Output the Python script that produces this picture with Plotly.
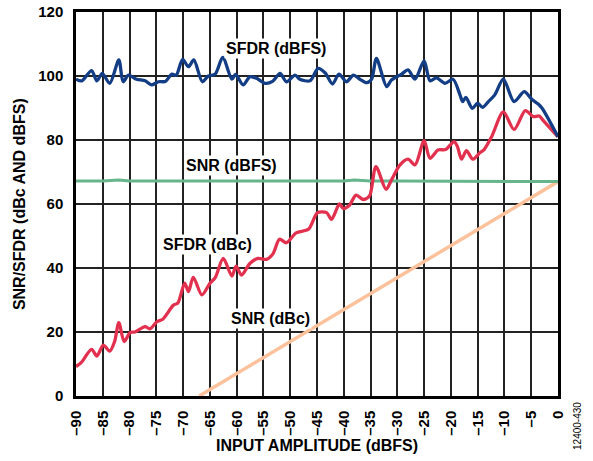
import plotly.graph_objects as go

# ---------------- data ----------------
x_ticks = list(range(-90, 1, 5))
x_ticktext = [("–" + str(-v)) if v < 0 else "0" for v in x_ticks]
y_ticks = [0, 20, 40, 60, 80, 100, 120]

sfdr_dbfs_x = [-90, -88.9, -87.1, -86.1, -85.1, -83.7, -82, -81.2, -80.2, -78.7, -77.1, -75.9, -74.6, -73.3,
               -72.1, -71.3, -70.1, -69, -68, -66.4, -65.3, -64, -62.6, -60.9, -60.2, -58.8, -57.5, -56.2,
               -54.7, -53.3, -51.9, -50.7, -49.1, -48.2, -46.3, -44.8, -43.5, -42.1, -40.9, -39.5, -38.2,
               -37, -35.7, -34.8, -33.9, -32, -31.1, -29.2, -28, -26.7, -25, -23.9, -22.7, -21.1, -19.6,
               -18.3, -17.8, -17.2, -16, -15, -14.1, -13, -11.8, -10.2, -8.2, -6.3, -4.9, -3.7, -3, 0]
sfdr_dbfs_y = [99, 98.5, 101.7, 98.5, 100.8, 97.7, 105, 98.2, 100.3, 99, 98.5, 97.2, 98.2, 98.3,
               100.6, 100.2, 105.2, 102.9, 105, 98.2, 100, 100.6, 105.8, 99, 100.5, 97.2, 99.8, 99.2,
               97.7, 98.3, 100.8, 98.2, 100.3, 99, 98.5, 102.4, 101, 97.5, 100.6, 98.2, 100.3,
               99, 97.9, 99, 105.5, 96.7, 98.75, 100.6, 101.9, 99, 104.7, 98.5, 99.4, 97.7, 99,
               94.1, 92, 93.3, 89.9, 91.5, 90.2, 92, 94.1, 99, 92, 95.1, 92.7, 91.25, 90, 81]

sfdr_dbc_x = [-90, -89, -87.1, -86.1, -84.9, -83.7, -82.8, -82, -81, -79.9, -79, -77.1, -76.2, -74.9, -73.8,
              -71.8, -71, -69.7, -69, -68.1, -66.5, -65, -64, -62.5, -60.9, -60.1, -59.1, -57.5, -56,
              -54.4, -53.2, -52, -50.7, -48.9, -46.6, -44.9, -43.2, -42.3, -40.8, -40.1, -39, -37.7,
              -36.4, -35.2, -34, -32.1, -31.1, -29.5, -28, -26.7, -25, -23.9, -22.4, -21, -19.4, -18.8,
              -18, -17.1, -15.9, -14.6, -13.8, -12.4, -10.2, -8.2, -6.1, -4.6, -3.5, -2.7, 0]
sfdr_dbc_y = [9.2, 10.5, 14.6, 12.5, 15.9, 14, 17, 22.9, 17, 19.8, 20, 21.7, 21, 23.2, 24,
              28.4, 29, 35.3, 32.6, 37.1, 31.6, 35.2, 37, 43, 37.5, 40.6, 37.8, 41.5, 43,
              42.7, 44.5, 49, 47.9, 51, 52.1, 57.3, 57.3, 55.2, 60, 58.6, 59.5, 62.8,
              61.4, 62.5, 71.7, 64.6, 67.5, 72.2, 74, 72.2, 79.8, 74.3, 76.9, 77, 79.5, 78,
              74, 76.7, 74, 76, 77, 81, 88.8, 83.3, 89.2, 87.3, 87.5, 86, 81]

snr_dbfs_x = [-90, -85, -82, -80, -75, -70, -65, -60, -55, -50, -45, -40, -38, -35, -30, -25, -20, -15, -10, -5, 0]
snr_dbfs_y = [67.2, 67.2, 67.5, 67.2, 67.2, 67.2, 67.2, 67.2, 67.2, 67.2, 67.2, 67.2, 67.5, 67.2, 67.2, 67.2,
              67.2, 67.2, 67.2, 67.2, 67.0]

snr_dbc_x = [-67, -60, -50, -40, -30, -20, -10, 0]
snr_dbc_y = [0, 7, 17, 27, 37, 47, 57, 67]

labels = ["SFDR (dBFS)", "SNR (dBFS)", "SFDR (dBc)", "SNR (dBc)"]
label_x = [-52.7, -60.9, -65.4, -53.7]
label_y = [108.7, 71.9, 47.2, 24.3]

# ---------------- figure ----------------
fig = go.Figure()
fig.add_trace(go.Scatter(x=snr_dbc_x, y=snr_dbc_y, mode="lines",
                         line=dict(color="#fdc29c", width=3.5), hoverinfo="skip"))
fig.add_trace(go.Scatter(x=snr_dbfs_x, y=snr_dbfs_y, mode="lines",
                         line=dict(color="#66b58c", width=3), hoverinfo="skip"))
fig.add_trace(go.Scatter(x=sfdr_dbc_x, y=sfdr_dbc_y, mode="lines",
                         line=dict(color="#e2314f", width=3.3, shape="spline", smoothing=0.8), hoverinfo="skip"))
fig.add_trace(go.Scatter(x=sfdr_dbfs_x, y=sfdr_dbfs_y, mode="lines",
                         line=dict(color="#133e86", width=3.3, shape="spline", smoothing=0.8), hoverinfo="skip"))

font_family = "Liberation Sans, Arial, sans-serif"

for t, lx, ly in zip(labels, label_x, label_y):
    fig.add_annotation(x=lx, y=ly, text=t, showarrow=False, bgcolor="white",
                       font=dict(family=font_family, size=16, color="black", weight="bold"),
                       xanchor="center", yanchor="middle", borderpad=1)

fig.add_annotation(xref="paper", yref="paper", x=0.5, y=-0.130, text="INPUT AMPLITUDE (dBFS)",
                   showarrow=False, xanchor="center", yanchor="middle",
                   font=dict(family=font_family, size=16, color="black", weight="bold"))
fig.add_annotation(xref="paper", yref="paper", x=-0.118, y=0.5, text="SNR/SFDR (dBc AND dBFS)",
                   showarrow=False, xanchor="center", yanchor="middle", textangle=-90,
                   font=dict(family=font_family, size=16, color="black", weight="bold"))
fig.add_annotation(xref="paper", yref="paper", x=1.0415, y=-0.078, text="12400-430",
                   showarrow=False, xanchor="center", yanchor="middle", textangle=-90,
                   font=dict(family=font_family, size=10, color="black"))

fig.update_layout(
    width=593, height=461,
    margin=dict(l=76, r=35, t=12, b=65, autoexpand=False),
    plot_bgcolor="white", paper_bgcolor="white",
    showlegend=False,
    font=dict(family=font_family, color="black"),
)
fig.update_xaxes(range=[-90, 0], tickmode="array", tickvals=x_ticks, ticktext=x_ticktext,
                 tickangle=-90, showgrid=True, gridcolor="#222222", gridwidth=1.5,
                 showline=True, linecolor="black", linewidth=2.5, mirror=True, zeroline=False,
                 ticks="", ticklabelstandoff=6, automargin=False,
                 tickfont=dict(family=font_family, size=15, color="black", weight="bold"))
fig.update_yaxes(range=[0, 120], tickmode="array", tickvals=y_ticks,
                 showgrid=True, gridcolor="#222222", gridwidth=1.5,
                 showline=True, linecolor="black", linewidth=2.5, mirror=True, zeroline=False,
                 ticks="", ticklabelstandoff=7, automargin=False,
                 tickfont=dict(family=font_family, size=15, color="black", weight="bold"))

fig.write_html("out.html", config={"displayModeBar": False})

# remove the default page margin so the figure sits at the window origin
with open("out.html", "r", encoding="utf-8") as f:
    html = f.read()
html = html.replace("<head>", "<head><style>html,body{margin:0;padding:0;overflow:hidden;}</style>", 1)
with open("out.html", "w", encoding="utf-8") as f:
    f.write(html)
